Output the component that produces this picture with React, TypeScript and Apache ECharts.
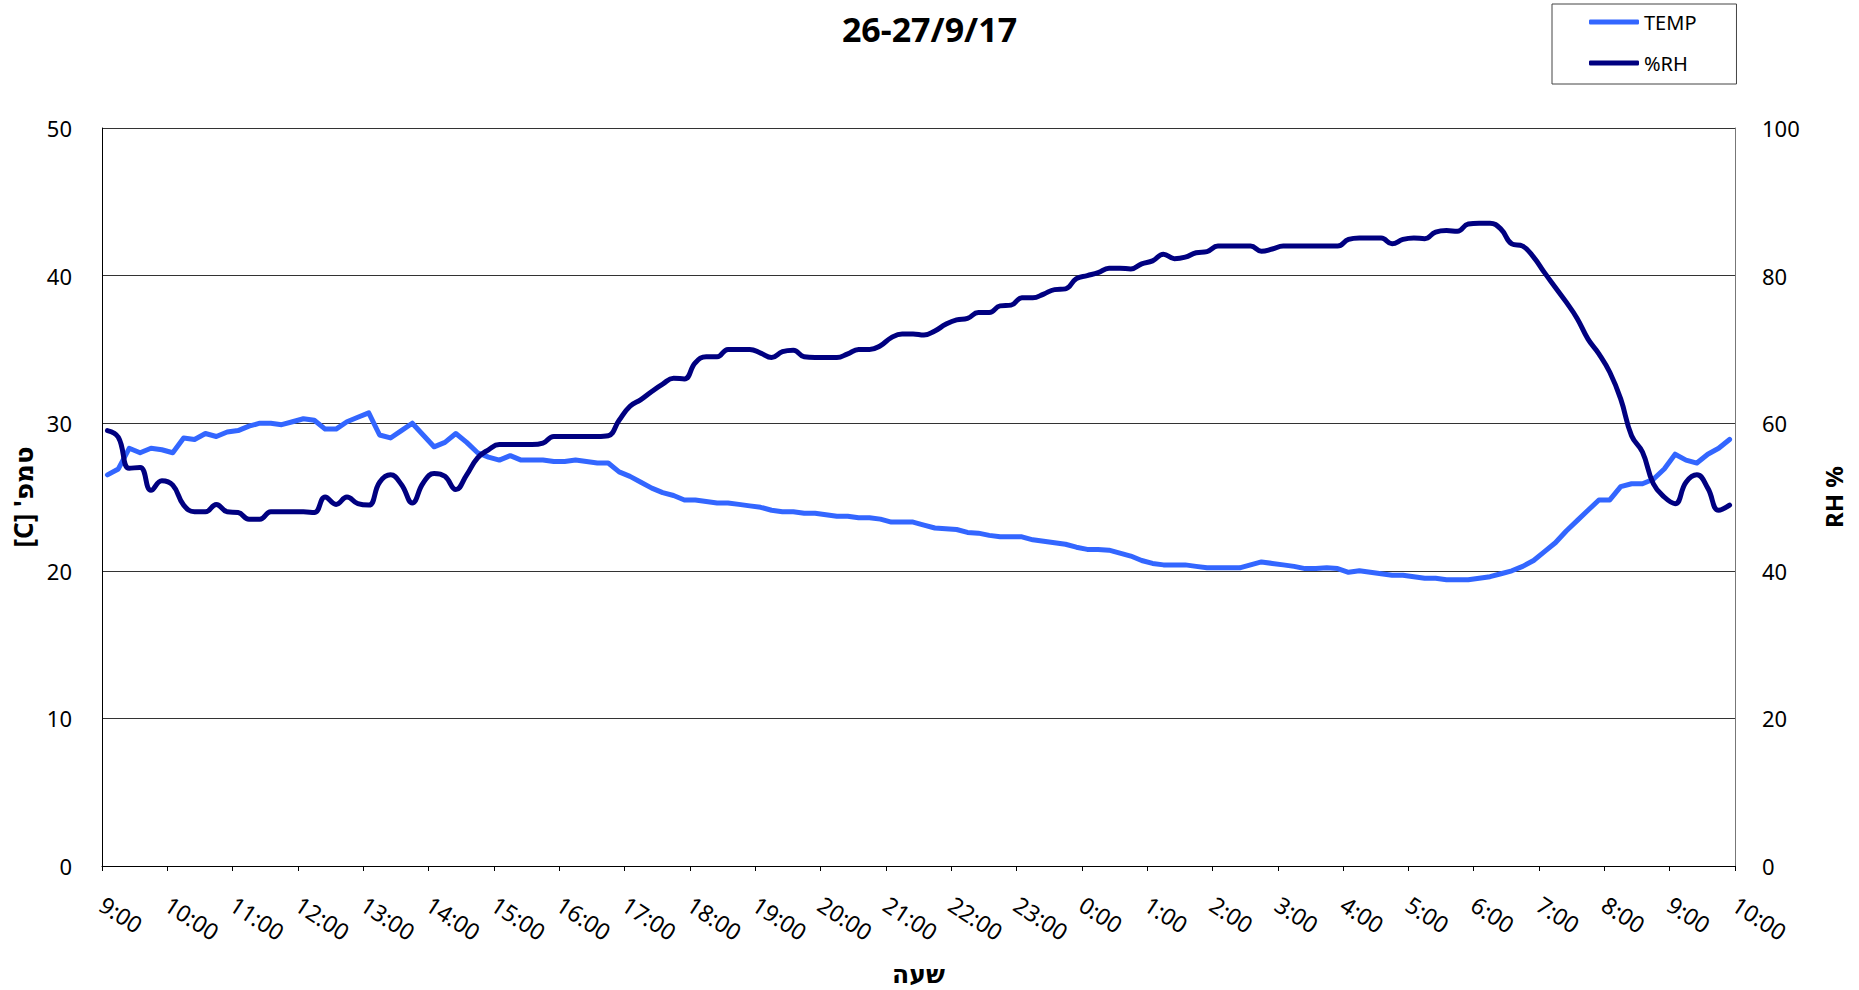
import React, { useEffect, useRef } from "react";
import * as echarts from "echarts";

const TITLE = "26-27/9/17";
const HOUR_LABELS = [
  "9:00", "10:00", "11:00", "12:00", "13:00", "14:00", "15:00", "16:00", "17:00",
  "18:00", "19:00", "20:00", "21:00", "22:00", "23:00", "0:00", "1:00", "2:00",
  "3:00", "4:00", "5:00", "6:00", "7:00", "8:00", "9:00", "10:00",
];
const STEPS_PER_HOUR = 6; // 10-minute readings

const TEMP = [
  26.5, 26.9, 28.3, 28.0, 28.3, 28.2, 28.0, 29.0, 28.9, 29.3,
  29.1, 29.4, 29.5, 29.8, 30.0, 30.0, 29.9, 30.1, 30.3, 30.2,
  29.6, 29.6, 30.1, 30.4, 30.7, 29.2, 29.0, 29.5, 30.0, 29.2,
  28.4, 28.7, 29.3, 28.7, 28.0, 27.7, 27.5, 27.8, 27.5, 27.5,
  27.5, 27.4, 27.4, 27.5, 27.4, 27.3, 27.3, 26.7, 26.4, 26.0,
  25.6, 25.3, 25.1, 24.8, 24.8, 24.7, 24.6, 24.6, 24.5, 24.4,
  24.3, 24.1, 24.0, 24.0, 23.9, 23.9, 23.8, 23.7, 23.7, 23.6,
  23.6, 23.5, 23.3, 23.3, 23.3, 23.1, 22.9, 22.85, 22.8, 22.6,
  22.55, 22.4, 22.3, 22.3, 22.3, 22.1, 22.0, 21.9, 21.8, 21.6,
  21.45, 21.45, 21.4, 21.2, 21.0, 20.7, 20.5, 20.4, 20.4, 20.4,
  20.3, 20.2, 20.2, 20.2, 20.2, 20.4, 20.6, 20.5, 20.4, 20.3,
  20.15, 20.15, 20.2, 20.15, 19.9, 20.0, 19.9, 19.8, 19.7, 19.7,
  19.6, 19.5, 19.5, 19.4, 19.4, 19.4, 19.5, 19.6, 19.8, 20.0,
  20.3, 20.7, 21.3, 21.9, 22.7, 23.4, 24.1, 24.8, 24.8, 25.7,
  25.9, 25.9, 26.2, 26.9, 27.9, 27.5, 27.3, 27.9, 28.3, 28.9,
];

const RH = [
  59.0, 58.1, 53.9, 54.0, 50.9, 52.2, 51.6, 48.9, 48.0, 48.0,
  49.0, 48.0, 47.9, 47.0, 47.0, 48.0, 48.0, 48.0, 48.0, 47.9,
  50.0, 49.0, 50.0, 49.1, 48.9, 52.0, 53.0, 51.7, 49.2, 51.9,
  53.2, 52.8, 51.0, 53.0, 55.3, 56.4, 57.1, 57.1, 57.1, 57.1,
  57.3, 58.2, 58.2, 58.2, 58.2, 58.2, 58.3, 60.4, 62.3, 63.2,
  64.3, 65.3, 66.1, 66.0, 68.2, 69.0, 69.0, 70.0, 70.0, 70.0,
  69.5, 68.9, 69.7, 69.9, 69.0, 68.9, 68.9, 68.9, 69.4, 70.0,
  70.0, 70.5, 71.6, 72.1, 72.1, 71.95, 72.5, 73.4, 74.0, 74.2,
  75.0, 75.0, 75.9, 76.0, 77.0, 77.0, 77.5, 78.1, 78.2, 79.6,
  80.0, 80.4, 81.0, 81.0, 80.9, 81.6, 82.0, 82.9, 82.3, 82.5,
  83.1, 83.25, 84.0, 84.0, 84.0, 84.0, 83.3, 83.6, 84.0, 84.0,
  84.0, 84.0, 84.0, 84.0, 84.9, 85.1, 85.1, 85.1, 84.3, 84.9,
  85.1, 85.0, 85.9, 86.1, 86.0, 87.0, 87.1, 87.1, 86.3, 84.3,
  84.0, 82.5, 80.4, 78.4, 76.4, 74.2, 71.4, 69.4, 66.9, 63.3,
  58.3, 56.1, 51.8, 50.0, 49.1, 52.0, 53.0, 51.2, 48.2, 48.9,
];

const FONT = "'Noto Sans', 'DejaVu Sans', sans-serif";

export default function App() {
  const ref = useRef<HTMLDivElement>(null);

  useEffect(() => {
    document.body.style.margin = "0";
    document.body.style.overflow = "hidden";
    if (!ref.current) return;
    const chart = echarts.init(ref.current, undefined, { renderer: "svg" });

    const toPoints = (arr: number[]) => arr.map((v, i) => [i + 0.5, v]);

    chart.setOption({
      animation: false,
      backgroundColor: "#ffffff",
      textStyle: { fontFamily: FONT },
      title: {
        text: TITLE,
        left: "center",
        top: 12,
        padding: 0,
        textStyle: { fontFamily: FONT, fontSize: 34, fontWeight: "bold", color: "#000" },
      },
      legend: {
        orient: "vertical",
        left: 1552,
        top: 4,
        padding: [8, 40, 11, 37],
        itemGap: 21,
        itemWidth: 50,
        itemHeight: 5,
        icon: "roundRect",
        borderColor: "#444",
        borderWidth: 1,
        backgroundColor: "#fff",
        textStyle: { fontFamily: FONT, fontSize: 20, color: "#000", lineHeight: 20 },
        data: ["TEMP", "%RH"],
      },
      grid: { left: 102, right: 124, top: 128, bottom: 122, containLabel: false },
      xAxis: {
        type: "value",
        min: 0,
        max: (HOUR_LABELS.length - 1) * STEPS_PER_HOUR,
        interval: STEPS_PER_HOUR,
        name: "שעה",
        nameLocation: "middle",
        nameGap: 94,
        nameTextStyle: { fontFamily: FONT, fontSize: 25, fontWeight: "bold", color: "#000" },
        axisLine: { show: true, lineStyle: { color: "#000", width: 1 } },
        axisTick: { show: true, length: 5, lineStyle: { color: "#000" } },
        splitLine: { show: false },
        axisLabel: {
          rotate: -33,
          margin: 36,
          fontSize: 23,
          color: "#000",
          fontFamily: FONT,
          showMinLabel: true,
          showMaxLabel: true,
          formatter: (v: number) => HOUR_LABELS[Math.round(v / STEPS_PER_HOUR)] ?? "",
        },
      },
      yAxis: [
        {
          type: "value",
          min: 0,
          max: 50,
          interval: 10,
          position: "left",
          name: "\u202Bטמפ' [C]\u202C",
          nameLocation: "middle",
          nameRotate: 90,
          nameGap: 62,
          nameTextStyle: { fontFamily: FONT, fontSize: 26, fontWeight: "bold", color: "#000" },
          axisLine: { show: true, lineStyle: { color: "#000", width: 1 } },
          axisTick: { show: false },
          axisLabel: { margin: 30, fontSize: 22, color: "#000", fontFamily: FONT },
          splitLine: { show: true, lineStyle: { color: "#333", width: 1 } },
        },
        {
          type: "value",
          min: 0,
          max: 100,
          interval: 20,
          position: "right",
          name: "RH %",
          nameLocation: "middle",
          nameRotate: 90,
          nameGap: 86,
          nameTextStyle: { fontFamily: FONT, fontSize: 24, fontWeight: "bold", color: "#000" },
          axisLine: { show: true, lineStyle: { color: "#777", width: 1 } },
          axisTick: { show: false },
          axisLabel: { margin: 27, fontSize: 22, color: "#000", fontFamily: FONT },
          splitLine: { show: false },
        },
      ],
      series: [
        {
          name: "TEMP",
          type: "line",
          yAxisIndex: 0,
          data: toPoints(TEMP),
          color: "#3366FF",
          showSymbol: false,
          symbol: "none",
          smooth: false,
          lineStyle: { color: "#3366FF", width: 5, join: "round", cap: "round" },
          z: 3,
        },
        {
          name: "%RH",
          type: "line",
          yAxisIndex: 1,
          data: toPoints(RH),
          color: "#000080",
          showSymbol: false,
          symbol: "none",
          smooth: 0.45,
          lineStyle: { color: "#000080", width: 5, join: "round", cap: "round" },
          z: 4,
        },
      ],
    });

    return () => chart.dispose();
  }, []);

  return <div ref={ref} style={{ width: 1859, height: 990 }} />;
}
